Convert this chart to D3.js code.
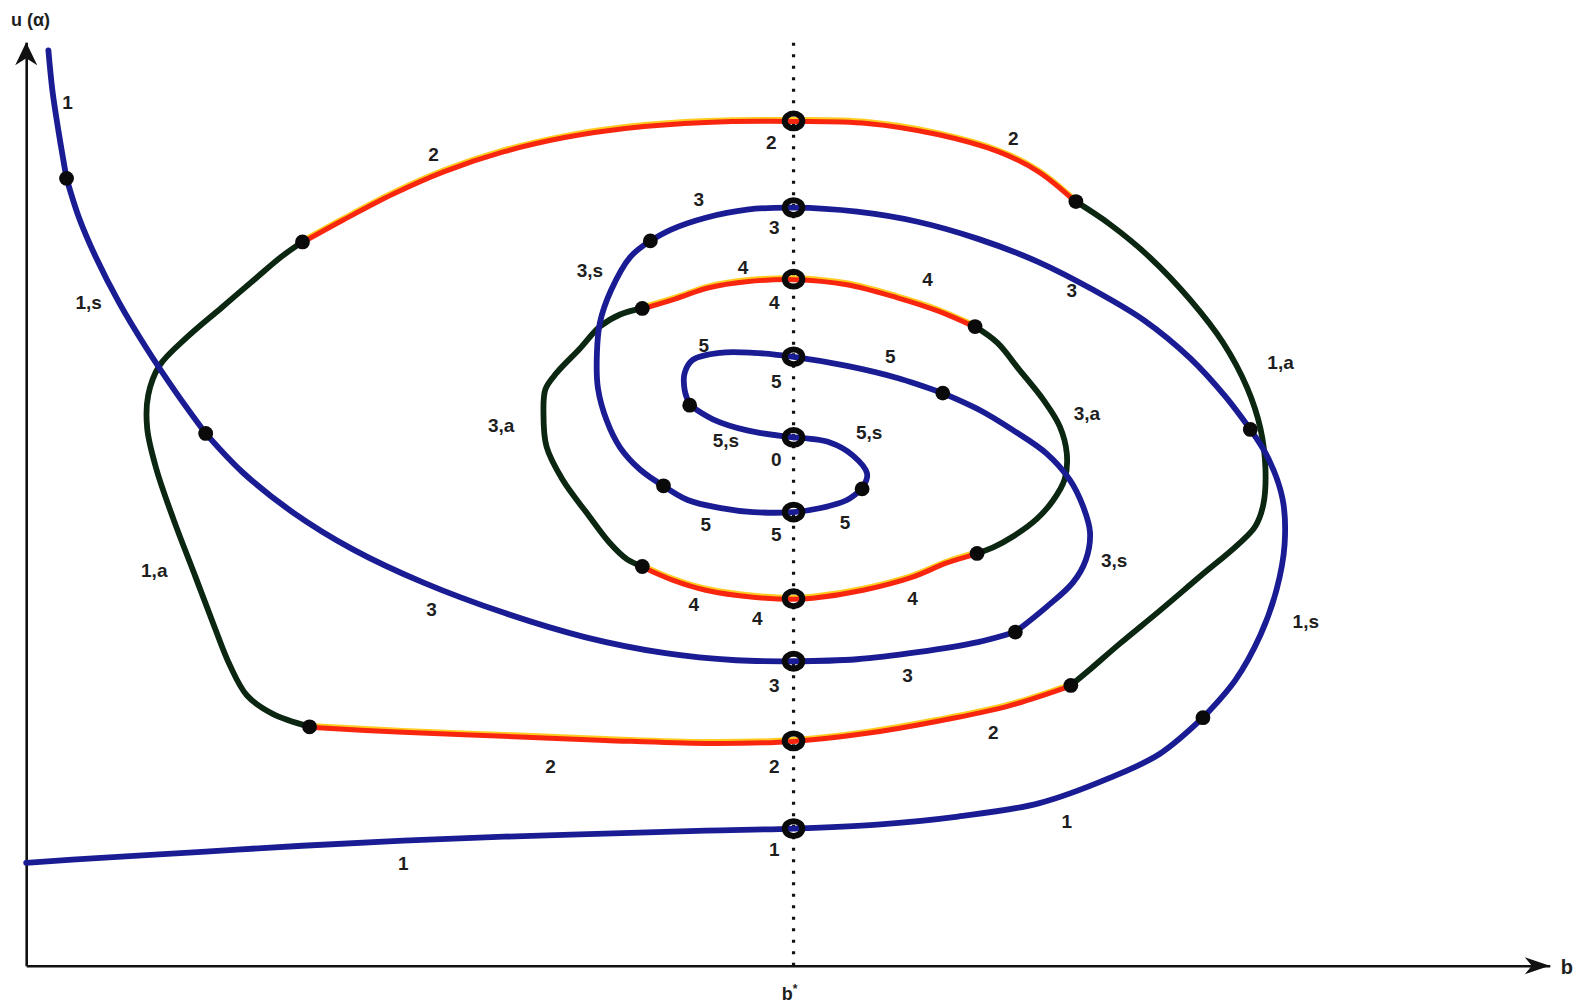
<!DOCTYPE html>
<html>
<head>
<meta charset="utf-8">
<script src="https://cdn.jsdelivr.net/npm/d3@7"></script>
<style>
  body { margin: 0; background: #fff; }
  svg { display: block; }
  text { font-family: "Liberation Sans", Arial, sans-serif; font-weight: bold; fill: #1e1e1e; }
</style>
</head>
<body>
<svg id="chart" width="1581" height="1006"></svg>
<script>
// Critical value of the parameter b
const bStar = 7.61;

// ---- Branch A: enters from the top-left and winds into the centre ----
const branchA1 = [[0.22,9.08],[0.26,8.68],[0.32,8.28],[0.40,7.81]];
const branchA2 = [[0.40,7.81],[0.52,7.43],[0.69,7.03],[0.92,6.58],[1.19,6.13],[1.49,5.68],[1.78,5.28]];
const branchA3 = [[1.78,5.28],[2.14,4.90],[2.64,4.50],[3.24,4.13],[3.94,3.80],[4.74,3.50],[5.54,3.26],[6.34,3.10],[7.04,3.03],[7.61,3.02],[8.24,3.04],[8.84,3.11],[9.44,3.21],[9.81,3.31]];
const branchA4 = [[9.81,3.31],[10.12,3.56],[10.38,3.80],[10.51,4.03],[10.55,4.30],[10.48,4.56],[10.35,4.82],[10.12,5.08],[9.79,5.31],[9.46,5.51],[9.09,5.68]];
const branchA5 = [[9.09,5.68],[8.64,5.83],[8.14,5.95],[7.61,6.04],[7.21,6.08],[6.88,6.08],[6.61,6.01],[6.53,5.88],[6.53,5.71],[6.58,5.56]];
const branchA6 = [[6.58,5.56],[6.81,5.42],[7.15,5.31],[7.61,5.24]];

// ---- Branch B: enters from the bottom-left and winds into the centre ----
const branchB1 = [[0,1.02],[0.74,1.07],[1.74,1.13],[2.74,1.19],[3.74,1.24],[4.74,1.28],[5.74,1.31],[6.74,1.34],[7.61,1.36],[8.44,1.40],[9.24,1.48],[10.04,1.61],[10.74,1.86],[11.24,2.10],[11.67,2.46]];
const branchB2 = [[11.67,2.46],[11.99,2.83],[12.24,3.28],[12.40,3.73],[12.48,4.18],[12.46,4.63],[12.32,5.03],[12.14,5.32]];
const branchB3 = [[12.14,5.32],[11.89,5.65],[11.54,6.03],[11.09,6.40],[10.59,6.70],[10.04,6.98],[9.44,7.21],[8.84,7.38],[8.24,7.48],[7.61,7.52],[7.15,7.50],[6.74,7.42],[6.39,7.30],[6.19,7.19]];
const branchB4 = [[6.19,7.19],[5.99,7.03],[5.80,6.70],[5.69,6.38],[5.66,6.08],[5.67,5.73],[5.76,5.40],[5.89,5.14],[6.09,4.92],[6.32,4.76]];
const branchB5 = [[6.32,4.76],[6.56,4.62],[6.89,4.54],[7.21,4.50],[7.61,4.50],[7.88,4.54],[8.14,4.62],[8.29,4.73]];
const branchB6 = [[8.29,4.73],[8.34,4.88],[8.20,5.06],[7.97,5.19],[7.61,5.24]];

// ---- Outer closed orbit (period 2 / 1,a) ----
const orbitOuterTop = [[2.74,7.18],[3.14,7.40],[3.64,7.66],[4.14,7.88],[4.74,8.08],[5.34,8.22],[5.94,8.31],[6.74,8.37],[7.61,8.38],[8.34,8.36],[9.04,8.25],[9.64,8.08],[10.04,7.88],[10.41,7.58]];
const orbitOuterRight = [[10.41,7.58],[10.74,7.36],[11.14,7.03],[11.54,6.61],[11.87,6.18],[12.11,5.73],[12.24,5.33],[12.29,4.93],[12.27,4.58],[12.19,4.36],[12.02,4.18],[11.64,3.86],[11.24,3.52],[10.84,3.19],[10.54,2.93],[10.36,2.78]];
const orbitOuterBottom = [[10.36,2.78],[9.74,2.58],[9.04,2.43],[8.34,2.31],[7.61,2.23],[6.74,2.21],[5.74,2.24],[4.74,2.28],[3.74,2.32],[2.81,2.37]];
const orbitOuterLeft = [[2.81,2.37],[2.44,2.50],[2.19,2.68],[2.02,2.98],[1.86,3.38],[1.67,3.88],[1.46,4.43],[1.29,4.93],[1.20,5.33],[1.21,5.66],[1.32,5.95],[1.59,6.23],[1.94,6.53],[2.29,6.83],[2.54,7.04],[2.74,7.18]];

// ---- Inner closed orbit (period 4 / 3,a) ----
const orbitInnerTop = [[6.11,6.52],[6.44,6.62],[6.77,6.73],[7.14,6.79],[7.61,6.81],[8.14,6.76],[8.64,6.63],[9.04,6.50],[9.41,6.34]];
const orbitInnerRight = [[9.41,6.34],[9.63,6.18],[9.85,5.91],[10.09,5.61],[10.25,5.35],[10.32,5.08],[10.30,4.83],[10.18,4.61],[10.02,4.43],[9.79,4.26],[9.59,4.15],[9.43,4.09]];
const orbitInnerBottom = [[9.43,4.09],[9.13,4.00],[8.79,3.86],[8.30,3.73],[7.80,3.65],[7.61,3.64],[7.21,3.66],[6.74,3.73],[6.41,3.83],[6.11,3.96]];
const orbitInnerLeft = [[6.11,3.96],[5.96,4.03],[5.79,4.19],[5.56,4.49],[5.32,4.82],[5.16,5.15],[5.13,5.48],[5.15,5.72],[5.26,5.88],[5.49,6.12],[5.69,6.34],[5.89,6.46],[6.11,6.52]];

// Segments grouped by stroke style
const blueSegments  = [branchA1, branchA2, branchA3, branchA4, branchA5, branchA6,
                       branchB1, branchB2, branchB3, branchB4, branchB5, branchB6];
const greenSegments = [orbitOuterRight, orbitOuterLeft, orbitInnerRight, orbitInnerLeft];
const redSegments   = [orbitOuterTop, orbitOuterBottom, orbitInnerTop, orbitInnerBottom];

// Crossings with b = b*
const crossingU = [8.38, 7.52, 6.81, 6.04, 5.24, 4.50, 3.64, 3.02, 2.23, 1.36];

// Branch labels: [text, b, u]
const labels = [
  ["1",0.41,8.56],["1,s",0.62,6.58],["2",4.04,8.05],["2",7.39,8.17],["2",9.79,8.21],
  ["3",6.67,7.60],["3",7.42,7.32],["3,s",5.59,6.90],["4",7.11,6.93],["4",8.94,6.81],
  ["4",7.42,6.58],["3",10.37,6.70],["1,a",12.44,5.98],["5",6.72,6.15],["5",8.57,6.04],
  ["5",7.44,5.80],["3,a",4.71,5.36],["3,a",10.52,5.48],["5,s",6.94,5.21],["5,s",8.36,5.29],
  ["0",7.44,5.02],["5",6.74,4.38],["5",8.12,4.40],["5",7.44,4.28],["3,s",10.79,4.02],
  ["1,a",1.27,3.92],["4",6.62,3.58],["4",7.25,3.44],["4",8.79,3.64],["3",4.02,3.53],
  ["1,s",12.69,3.41],["3",7.42,2.78],["3",8.74,2.88],["2",9.59,2.31],["2",5.20,1.98],
  ["2",7.42,1.98],["1",10.32,1.43],["1",3.74,1.01],["1",7.42,1.15]
];

const bMax = 15.11, uMax = 9.16;

const svg = d3.select("#chart");
const x = d3.scaleLinear().domain([0, bMax]).range([26.2, 1549.8]);
const y = d3.scaleLinear().domain([0, uMax]).range([965.7, 42.3]);

const line = d3.line()
  .x(d => x(d[0]))
  .y(d => y(d[1]))
  .curve(d3.curveCatmullRom.alpha(0.5));

// Axes (no ticks, just the domain lines)
svg.append("g").attr("transform", `translate(0,${y(0)})`)
  .call(d3.axisBottom(x).tickValues([]).tickSizeOuter(0));
svg.append("g").attr("transform", `translate(${x(0)},0)`)
  .call(d3.axisLeft(y).tickValues([]).tickSizeOuter(0));
svg.selectAll(".domain").attr("stroke", "#111").attr("stroke-width", 2.6);

// Arrow heads
const xt = x(bMax), yt = y(0);
svg.append("path")
  .attr("d", `M${xt},${yt} L${xt-25},${yt-8.5} L${xt-18},${yt} L${xt-25},${yt+8.5} Z`)
  .attr("fill", "#111");
const xl = x(0), ytop = y(uMax);
svg.append("path")
  .attr("d", `M${xl},${ytop} L${xl-11},${ytop+23} L${xl},${ytop+16} L${xl+11},${ytop+23} Z`)
  .attr("fill", "#111");

svg.append("text").attr("x", x(bMax) + 11).attr("y", y(0) + 1)
  .attr("dominant-baseline", "central").attr("font-size", 20).text("b");
svg.append("text").attr("x", 11).attr("y", 20)
  .attr("dominant-baseline", "central").attr("font-size", 18).text("u (α)");
const bLab = svg.append("text").attr("x", x(bStar) - 4).attr("y", 1000)
  .attr("text-anchor", "middle").attr("font-size", 18);
bLab.append("tspan").text("b");
bLab.append("tspan").attr("font-size", 12).attr("dy", -7).text("*");

// Dotted vertical line at b*
svg.append("line")
  .attr("x1", x(bStar)).attr("x2", x(bStar))
  .attr("y1", y(0)).attr("y2", y(uMax))
  .attr("stroke", "#111").attr("stroke-width", 3.2)
  .attr("stroke-dasharray", "3 8.5");

// Curves
svg.append("g").selectAll("path").data(greenSegments).join("path")
  .attr("d", line).attr("fill", "none")
  .attr("stroke", "#0b2611").attr("stroke-width", 5.8).attr("stroke-linecap", "round");

const redG = svg.append("g");
redG.selectAll("path.glow").data(redSegments).join("path").attr("class", "glow")
  .attr("d", line).attr("fill", "none").attr("transform", "translate(0,-2.2)")
  .attr("stroke", "#ffcc22").attr("stroke-width", 3.4);
redG.selectAll("path.core").data(redSegments).join("path").attr("class", "core")
  .attr("d", line).attr("fill", "none").attr("transform", "translate(0,0.5)")
  .attr("stroke", "#f8260e").attr("stroke-width", 5);

svg.append("g").selectAll("path").data(blueSegments).join("path")
  .attr("d", line).attr("fill", "none")
  .attr("stroke", "#1a1c94").attr("stroke-width", 5.8).attr("stroke-linecap", "round");

// Transition points between branch types
const allSegs = blueSegments.concat(greenSegments, redSegments);
const ends = [];
allSegs.forEach(s => { ends.push(s[0]); ends.push(s[s.length - 1]); });
const key = p => p[0].toFixed(2) + "_" + p[1].toFixed(2);
const seen = new Set();
const dots = ends.filter(p => {
  if (Math.abs(p[0] - bStar) < 0.01 || p[0] < 0.01 || p[1] > 9) return false;
  const k = key(p); if (seen.has(k)) return false; seen.add(k); return true;
});
svg.append("g").selectAll("circle").data(dots).join("circle")
  .attr("cx", d => x(d[0])).attr("cy", d => y(d[1])).attr("r", 7.4).attr("fill", "#0a0a0a");

// Rings at b = b*
svg.append("g").selectAll("ellipse").data(crossingU).join("ellipse")
  .attr("cx", x(bStar)).attr("cy", d => y(d))
  .attr("rx", 8.8).attr("ry", 7.4)
  .attr("fill", "none").attr("stroke", "#0a0a0a").attr("stroke-width", 6);

// Branch labels
svg.append("g").selectAll("text").data(labels).join("text")
  .attr("x", d => x(d[1])).attr("y", d => y(d[2]))
  .attr("text-anchor", "middle").attr("dominant-baseline", "central")
  .attr("font-size", 19).text(d => d[0]);
</script>
</body>
</html>
